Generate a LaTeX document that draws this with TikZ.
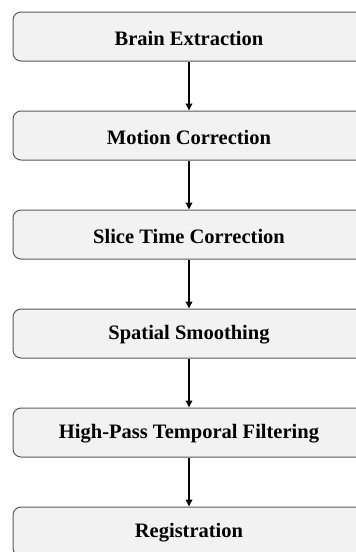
\documentclass[tikz,border=0pt]{standalone}
\usepackage{fontspec}
\setmainfont{Liberation Serif}
\usetikzlibrary{arrows.meta}
\definecolor{boxfill}{HTML}{F2F2F2}
\definecolor{boxline}{HTML}{5A5A5A}
\newcommand{\lowertxt}[1]{\raisebox{-1.5pt}[\height][\depth]{#1}}
\begin{document}
\begin{tikzpicture}[x=1pt,y=1pt,
  stepbox/.style={draw=boxline, fill=boxfill, line width=1pt, rounded corners=8pt,
    minimum width=352pt, minimum height=49pt, inner sep=0pt,
    font=\fontsize{20.5}{24}\selectfont\bfseries},
  flow/.style={line width=1.8pt, -{Triangle[length=7pt,width=6.5pt]}}]
\useasboundingbox (0,0) rectangle (356,-552);
\fill[white] (0,0) rectangle (356,-552);
\node[stepbox] (b1) at (189,-36.5) {\lowertxt{Brain Extraction}};
\node[stepbox] (b2) at (189,-135.5) {\lowertxt{Motion Correction}};
\node[stepbox] (b3) at (189,-234.5) {\lowertxt{Slice Time Correction}};
\node[stepbox] (b4) at (189,-333.5) {\lowertxt{Spatial Smoothing}};
\node[stepbox] (b5) at (189,-432.5) {\lowertxt{High-Pass Temporal Filtering}};
\node[stepbox] (b6) at (189,-531.5) {\lowertxt{Registration}};
\draw[flow] (b1.south) -- (b2.north);
\draw[flow] (b2.south) -- (b3.north);
\draw[flow] (b3.south) -- (b4.north);
\draw[flow] (b4.south) -- (b5.north);
\draw[flow] (b5.south) -- (b6.north);
\end{tikzpicture}
\end{document}
